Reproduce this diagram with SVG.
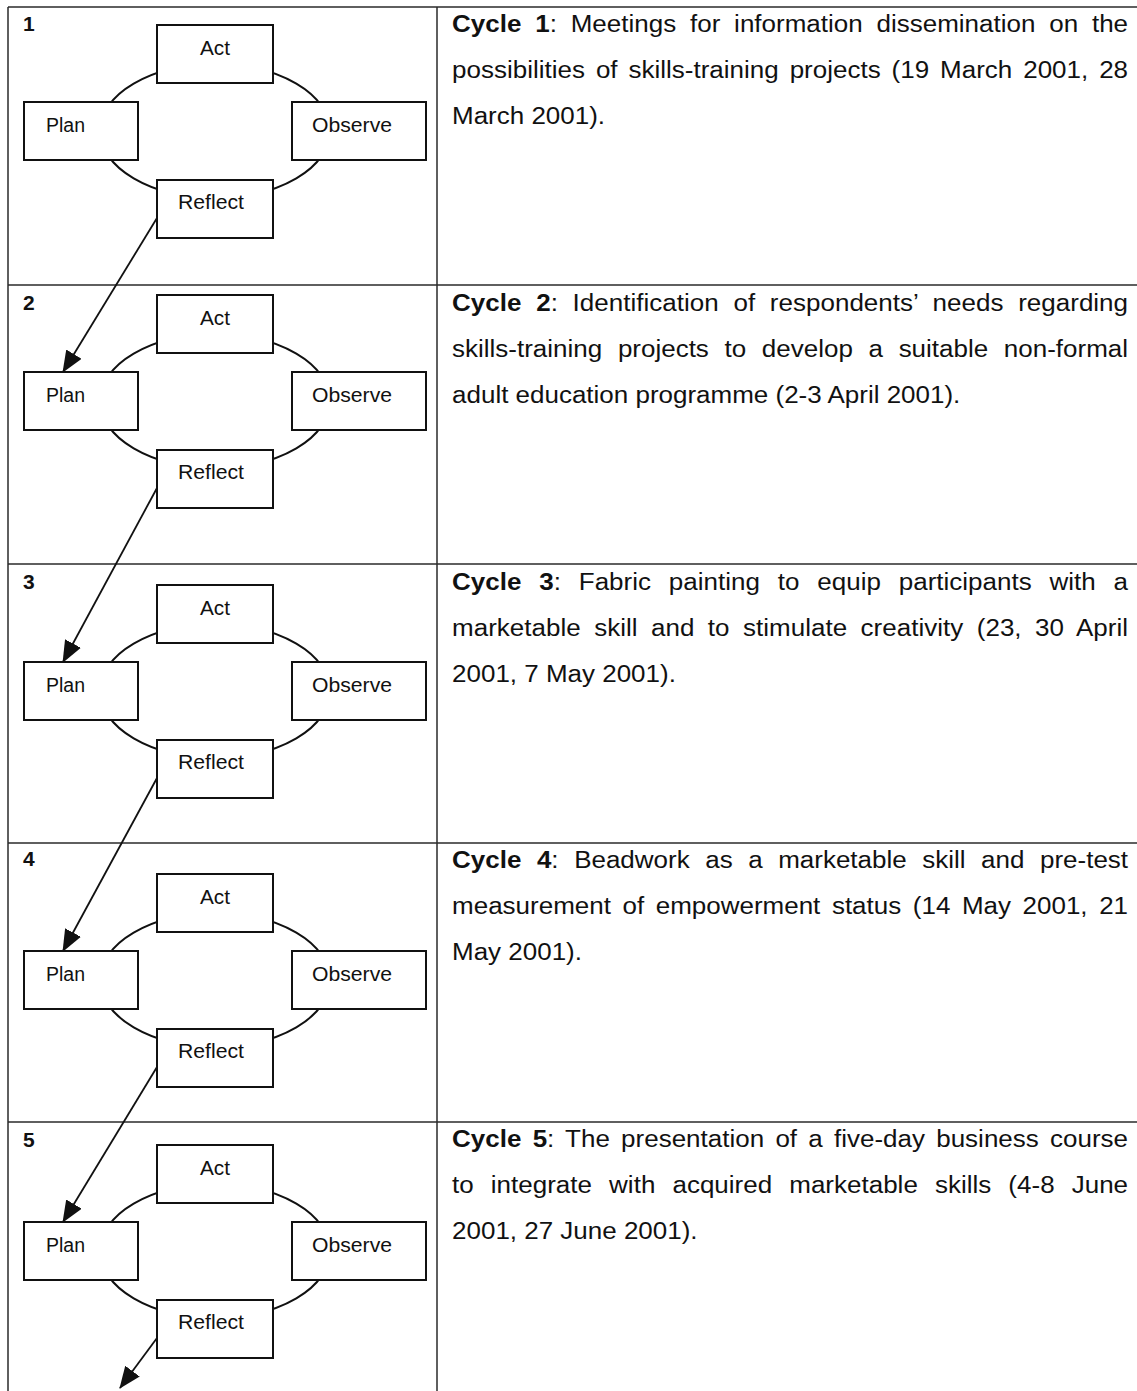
<svg xmlns="http://www.w3.org/2000/svg" width="1137" height="1391" viewBox="0 0 1137 1391">
  <style>
    .grid { stroke: #2a2a2a; stroke-width: 1.5; fill: none; }
    .box { fill: #ffffff; stroke: #111111; stroke-width: 2; }
    .ring { fill: none; stroke: #111111; stroke-width: 2; }
    .link { fill: none; stroke: #111111; stroke-width: 1.8; marker-end: url(#head); }
    .lbl { font-family: "Liberation Sans", Arial, sans-serif; font-size: 19.5px; fill: #111111; }
    .num { font-family: "Liberation Sans", Arial, sans-serif; font-size: 21px; font-weight: bold; fill: #111111; }
    .desc { font-family: "Liberation Sans", Arial, sans-serif; font-size: 24px; fill: #111111; }
    .desc .b { font-weight: bold; }
  </style>
  <defs>
    <marker id="head" markerUnits="userSpaceOnUse" markerWidth="24" markerHeight="20" refX="21" refY="9" orient="auto">
      <path d="M0,0 L22,9 L0,18 Z" fill="#111111"/>
    </marker>
  </defs>

  <rect width="1137" height="1391" fill="#ffffff"/>

  <!-- table grid -->
  <g id="table" class="grid">
    <line x1="8" y1="7" x2="1137" y2="7"/>
    <line x1="8" y1="285" x2="1137" y2="285"/>
    <line x1="8" y1="564" x2="1137" y2="564"/>
    <line x1="8" y1="843" x2="1137" y2="843"/>
    <line x1="8" y1="1122" x2="1137" y2="1122"/>
    <line x1="8" y1="7" x2="8" y2="1391"/>
    <line x1="437" y1="7" x2="437" y2="1391"/>
  </g>

  <!-- row numbers -->
  <g id="row-numbers" class="num">
    <text x="23" y="31">1</text>
    <text x="23" y="310">2</text>
    <text x="23" y="589">3</text>
    <text x="23" y="866">4</text>
    <text x="23" y="1147">5</text>
  </g>

  <!-- connectors: cycle rings and hand-over arrows between cycles -->
  <g id="connectors">
    <ellipse class="ring" cx="215" cy="131" rx="115" ry="67"/>
    <ellipse class="ring" cx="215" cy="401" rx="115" ry="67"/>
    <ellipse class="ring" cx="215" cy="691" rx="115" ry="67"/>
    <ellipse class="ring" cx="215" cy="980" rx="115" ry="67"/>
    <ellipse class="ring" cx="215" cy="1251" rx="115" ry="67"/>
    <line class="link" x1="157" y1="218" x2="63" y2="372"/>
    <line class="link" x1="157" y1="488" x2="63" y2="662"/>
    <line class="link" x1="157" y1="778" x2="63" y2="951"/>
    <line class="link" x1="157" y1="1067" x2="63" y2="1222"/>
    <line class="link" x1="157" y1="1338" x2="120" y2="1388"/>
  </g>

  <!-- cycle 1 -->
  <g id="cycle-1" transform="translate(0 0)">
    <g id="act-1"><rect class="box" x="157" y="25" width="116" height="58"/><text class="lbl" x="200" y="55" textLength="30" lengthAdjust="spacingAndGlyphs">Act</text></g>
    <g id="plan-1"><rect class="box" x="24" y="102" width="114" height="58"/><text class="lbl" x="46" y="132" textLength="39" lengthAdjust="spacingAndGlyphs">Plan</text></g>
    <g id="observe-1"><rect class="box" x="292" y="102" width="134" height="58"/><text class="lbl" x="312" y="132" textLength="80" lengthAdjust="spacingAndGlyphs">Observe</text></g>
    <g id="reflect-1"><rect class="box" x="157" y="180" width="116" height="58"/><text class="lbl" x="178" y="209" textLength="66" lengthAdjust="spacingAndGlyphs">Reflect</text></g>
  </g>

  <!-- cycle 2 -->
  <g id="cycle-2" transform="translate(0 270)">
    <g id="act-2"><rect class="box" x="157" y="25" width="116" height="58"/><text class="lbl" x="200" y="55" textLength="30" lengthAdjust="spacingAndGlyphs">Act</text></g>
    <g id="plan-2"><rect class="box" x="24" y="102" width="114" height="58"/><text class="lbl" x="46" y="132" textLength="39" lengthAdjust="spacingAndGlyphs">Plan</text></g>
    <g id="observe-2"><rect class="box" x="292" y="102" width="134" height="58"/><text class="lbl" x="312" y="132" textLength="80" lengthAdjust="spacingAndGlyphs">Observe</text></g>
    <g id="reflect-2"><rect class="box" x="157" y="180" width="116" height="58"/><text class="lbl" x="178" y="209" textLength="66" lengthAdjust="spacingAndGlyphs">Reflect</text></g>
  </g>

  <!-- cycle 3 -->
  <g id="cycle-3" transform="translate(0 560)">
    <g id="act-3"><rect class="box" x="157" y="25" width="116" height="58"/><text class="lbl" x="200" y="55" textLength="30" lengthAdjust="spacingAndGlyphs">Act</text></g>
    <g id="plan-3"><rect class="box" x="24" y="102" width="114" height="58"/><text class="lbl" x="46" y="132" textLength="39" lengthAdjust="spacingAndGlyphs">Plan</text></g>
    <g id="observe-3"><rect class="box" x="292" y="102" width="134" height="58"/><text class="lbl" x="312" y="132" textLength="80" lengthAdjust="spacingAndGlyphs">Observe</text></g>
    <g id="reflect-3"><rect class="box" x="157" y="180" width="116" height="58"/><text class="lbl" x="178" y="209" textLength="66" lengthAdjust="spacingAndGlyphs">Reflect</text></g>
  </g>

  <!-- cycle 4 -->
  <g id="cycle-4" transform="translate(0 849)">
    <g id="act-4"><rect class="box" x="157" y="25" width="116" height="58"/><text class="lbl" x="200" y="55" textLength="30" lengthAdjust="spacingAndGlyphs">Act</text></g>
    <g id="plan-4"><rect class="box" x="24" y="102" width="114" height="58"/><text class="lbl" x="46" y="132" textLength="39" lengthAdjust="spacingAndGlyphs">Plan</text></g>
    <g id="observe-4"><rect class="box" x="292" y="102" width="134" height="58"/><text class="lbl" x="312" y="132" textLength="80" lengthAdjust="spacingAndGlyphs">Observe</text></g>
    <g id="reflect-4"><rect class="box" x="157" y="180" width="116" height="58"/><text class="lbl" x="178" y="209" textLength="66" lengthAdjust="spacingAndGlyphs">Reflect</text></g>
  </g>

  <!-- cycle 5 -->
  <g id="cycle-5" transform="translate(0 1120)">
    <g id="act-5"><rect class="box" x="157" y="25" width="116" height="58"/><text class="lbl" x="200" y="55" textLength="30" lengthAdjust="spacingAndGlyphs">Act</text></g>
    <g id="plan-5"><rect class="box" x="24" y="102" width="114" height="58"/><text class="lbl" x="46" y="132" textLength="39" lengthAdjust="spacingAndGlyphs">Plan</text></g>
    <g id="observe-5"><rect class="box" x="292" y="102" width="134" height="58"/><text class="lbl" x="312" y="132" textLength="80" lengthAdjust="spacingAndGlyphs">Observe</text></g>
    <g id="reflect-5"><rect class="box" x="157" y="180" width="116" height="58"/><text class="lbl" x="178" y="209" textLength="66" lengthAdjust="spacingAndGlyphs">Reflect</text></g>
  </g>

  <!-- cycle descriptions, justified between x=452 and x=1128 (slightly widened type) -->
  <g id="descriptions" class="desc" transform="scale(1.083 1)">
    <text x="417.4" y="32" word-spacing="6.1" textLength="624.2" lengthAdjust="spacing"><tspan class="b">Cycle 1</tspan>: Meetings for information dissemination on the</text>
    <text x="417.4" y="78" word-spacing="3.4" textLength="624.2" lengthAdjust="spacing">possibilities of skills-training projects (19 March 2001, 28</text>
    <text x="417.4" y="124">March 2001).</text>

    <text x="417.4" y="311" word-spacing="6.9" textLength="624.2" lengthAdjust="spacing"><tspan class="b">Cycle 2</tspan>: Identification of respondents’ needs regarding</text>
    <text x="417.4" y="357" word-spacing="7.8" textLength="624.2" lengthAdjust="spacing">skills-training projects to develop a suitable non-formal</text>
    <text x="417.4" y="403">adult education programme (2-3 April 2001).</text>

    <text x="417.4" y="590" word-spacing="9.8" textLength="624.2" lengthAdjust="spacing"><tspan class="b">Cycle 3</tspan>: Fabric painting to equip participants with a</text>
    <text x="417.4" y="636" word-spacing="5.7" textLength="624.2" lengthAdjust="spacing">marketable skill and to stimulate creativity (23, 30 April</text>
    <text x="417.4" y="682">2001, 7 May 2001).</text>

    <text x="417.4" y="868" word-spacing="7.7" textLength="624.2" lengthAdjust="spacing"><tspan class="b">Cycle 4</tspan>: Beadwork as a marketable skill and pre-test</text>
    <text x="417.4" y="914" word-spacing="4.0" textLength="624.2" lengthAdjust="spacing">measurement of empowerment status (14 May 2001, 21</text>
    <text x="417.4" y="960">May 2001).</text>

    <text x="417.4" y="1147" word-spacing="3.65" textLength="624.2" lengthAdjust="spacing"><tspan class="b">Cycle 5</tspan>: The presentation of a five-day business course</text>
    <text x="417.4" y="1193" word-spacing="9.1" textLength="624.2" lengthAdjust="spacing">to integrate with acquired marketable skills (4-8 June</text>
    <text x="417.4" y="1239">2001, 27 June 2001).</text>
  </g>
</svg>
